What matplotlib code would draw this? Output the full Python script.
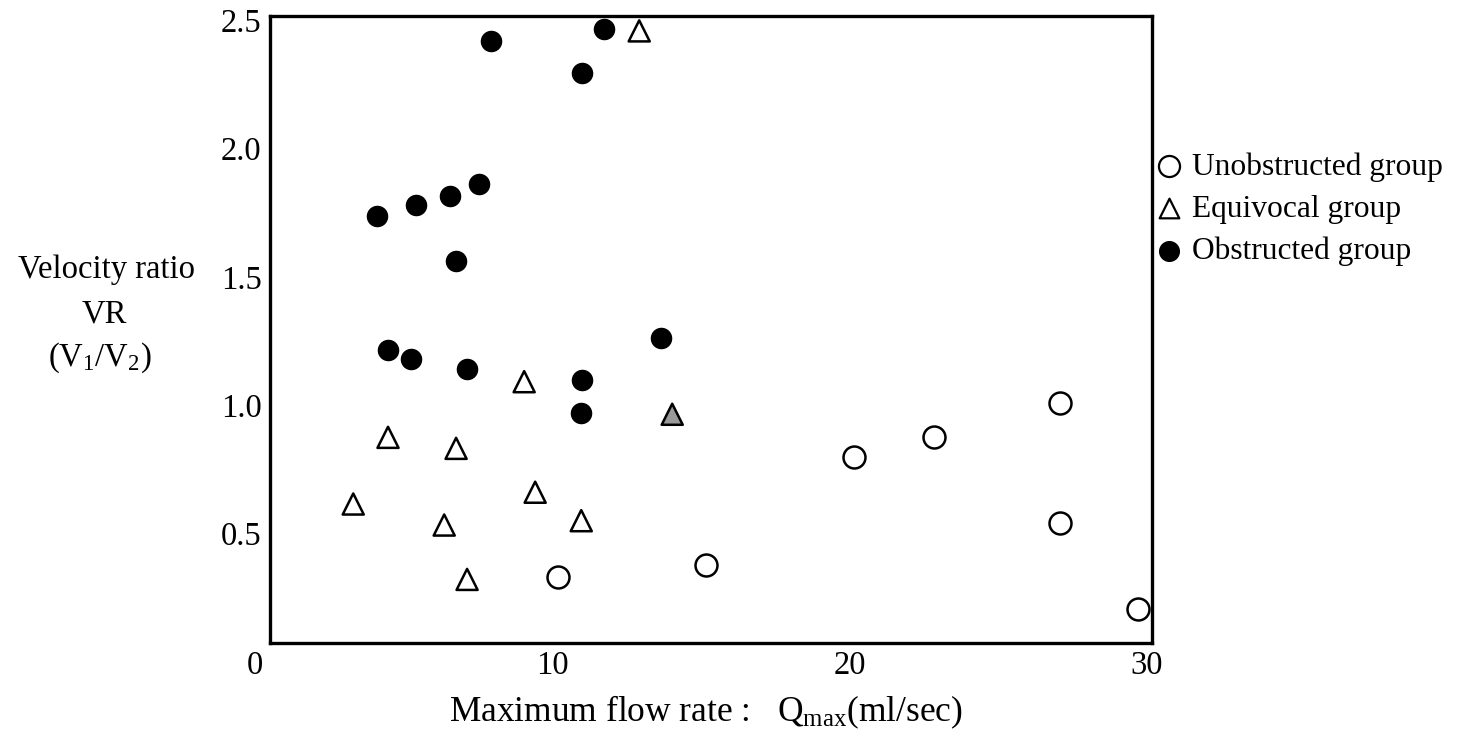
import matplotlib
matplotlib.use('Agg')
import matplotlib.pyplot as plt
import matplotlib.transforms as mtransforms

plt.rcParams['font.family'] = 'Liberation Serif'
plt.rcParams['mathtext.fontset'] = 'custom'
plt.rcParams['mathtext.rm'] = 'Liberation Serif'
plt.rcParams['mathtext.it'] = 'Liberation Serif:italic'
plt.rcParams['font.size'] = 23.5

# unobstructed group (open circles)
unob_x = [10.19, 15.17, 20.15, 22.84, 27.08, 27.08, 29.70]
unob_y = [0.330, 0.376, 0.797, 0.875, 1.008, 0.540, 0.204]

# equivocal group (open triangles, one shaded)
equi_x = [12.92, 9.05, 14.03, 4.47, 6.76, 3.30, 9.42, 6.36, 10.97, 7.13]
equi_y = [2.459, 1.091, 0.964, 0.874, 0.831, 0.614, 0.660, 0.532, 0.549, 0.320]
equi_shaded = 2  # index of the grey triangle

# obstructed group (filled dots)
obs_x = [7.94, 11.74, 11.00, 4.10, 5.42, 6.56, 7.53, 6.76,
         4.47, 5.25, 7.13, 11.00, 10.97, 13.66]
obs_y = [2.420, 2.467, 2.295, 1.737, 1.780, 1.815, 1.862, 1.562,
         1.215, 1.179, 1.140, 1.097, 0.968, 1.261]

xticks = [0, 10, 20, 30]
yticks = [0.5, 1.0, 1.5, 2.0, 2.5]

W, H = 1463, 749
fig = plt.figure(figsize=(W / 100, H / 100), dpi=100)
ax = fig.add_axes([270 / W, 1 - 643 / H, (1152 - 270) / W, (643 - 16) / H])

ax.set_xlim(0.50, 30.17)
ax.set_ylim(0.072, 2.517)

h_unob = ax.scatter(unob_x, unob_y, s=250, marker='o', facecolors='white',
                    edgecolors='black', linewidths=1.8, zorder=3, clip_on=False)
face = ['white'] * len(equi_x)
face[equi_shaded] = '#9a9a9a'
h_equi = ax.scatter(equi_x, equi_y, s=230, marker='^', facecolors=face,
                    edgecolors='black', linewidths=1.8, zorder=3, clip_on=False)
h_obs = ax.scatter(obs_x, obs_y, s=210, marker='o', facecolors='black',
                   edgecolors='black', linewidths=1, zorder=3, clip_on=False)

for sp in ax.spines.values():
    sp.set_linewidth(2.4)

ax.set_yticks(yticks)
ax.set_yticklabels([f'{v:.1f}' for v in yticks])
ax.tick_params(axis='y', length=0, pad=6)
ax.set_xticks([])

# x tick labels (0 sits left of the frame, so place them as text)
trans = mtransforms.blended_transform_factory(ax.transData, ax.transAxes)
for t in xticks:
    ax.text(t, -0.012, str(t), transform=trans, ha='center', va='top',
            clip_on=False)

fig.text(706 / W, 1 - 712 / H, 'Maximum flow rate :   Q$_{\\mathrm{max}}$(ml/sec)',
         ha='center', va='center', fontsize=25.5)

fig.text(107 / W, 1 - 270 / H, 'Velocity ratio', ha='center', va='center')
fig.text(104 / W, 1 - 314 / H, 'VR', ha='center', va='center')
fig.text(100 / W, 1 - 358 / H, '(V$_{\\mathrm{1}}$/V$_{\\mathrm{2}}$)',
         ha='center', va='center')

h_unob_l = ax.scatter([], [], s=230, marker='o', facecolors='white',
                      edgecolors='black', linewidths=1.6)
h_equi_l = ax.scatter([], [], s=200, marker='^', facecolors='white',
                      edgecolors='black', linewidths=1.6)
h_obs_l = ax.scatter([], [], s=200, marker='o', facecolors='black',
                     edgecolors='black')
ax.legend([h_unob_l, h_equi_l, h_obs_l],
          ['Unobstructed group', 'Equivocal group', 'Obstructed group'],
          loc='upper left', bbox_to_anchor=(1156 / W, 1 - 152 / H),
          bbox_transform=fig.transFigure, frameon=False, borderpad=0,
          borderaxespad=0, handlelength=0.8, handletextpad=0.34,
          labelspacing=0.415, scatterpoints=1, fontsize=22.7)

fig.savefig('out.png', dpi=100, facecolor='white')
